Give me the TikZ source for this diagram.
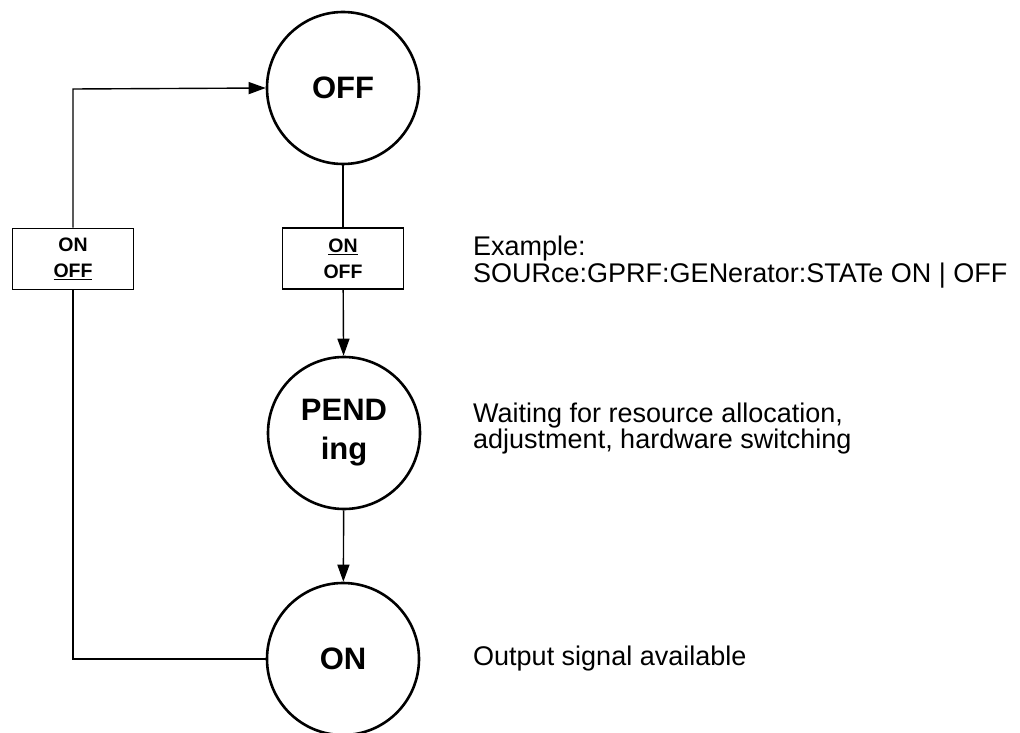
\documentclass[tikz,border=0pt]{standalone}
\usepackage{fontspec}
\setmainfont{Liberation Sans}
\usetikzlibrary{arrows.meta}
\begin{document}
\begin{tikzpicture}[x=1pt,y=-1pt,
  state/.style={circle,draw,line width=2.6pt,minimum size=152pt,inner sep=0pt,
    font=\fontsize{31}{39}\selectfont\bfseries,align=center},
  cond/.style={draw,line width=1.6pt,minimum width=121pt,minimum height=61pt,inner sep=0pt,
    font=\fontsize{19.5}{26}\selectfont\bfseries,align=center},
  conn/.style={line width=1.4pt},
  arr/.style={conn,-{Triangle[length=17pt,width=12pt]}},
  note/.style={anchor=base west,inner sep=0pt,
    font=\fontsize{27}{28}\selectfont}]
\useasboundingbox (0,0) rectangle (1020,733);
\node[state] (off) at (343,88) {OFF};
\node[state] (pend) at (344,433) {PEND\\ing};
\node[state] (on) at (343,659) {ON};
\node[cond] (c1) at (343,258.5) {\underline{ON}\\OFF};
\node[cond] (c2) at (73,259) {ON\\\underline{OFF}};
\coordinate (bl) at (73,659);
\coordinate (tl) at (73,89);
\draw[conn] (off) -- (c1);
\draw[arr] (c1) -- (pend);
\draw[arr] (pend) -- (on);
\draw[conn] (on.west) -- (bl) -- (c2);
\draw[arr] (c2) -- (tl) -- (off.west);
\node[note] (n1a) at (473,255) {Example:};
\node[note] (n1b) at (473,282) {SOURce:GPRF:GENerator:STATe ON | OFF};
\node[note] (n2a) at (473,422) {Waiting for resource allocation,};
\node[note] (n2b) at (473,448) {adjustment, hardware switching};
\node[note] (n3) at (473,665) {Output signal available};
\end{tikzpicture}
\end{document}
